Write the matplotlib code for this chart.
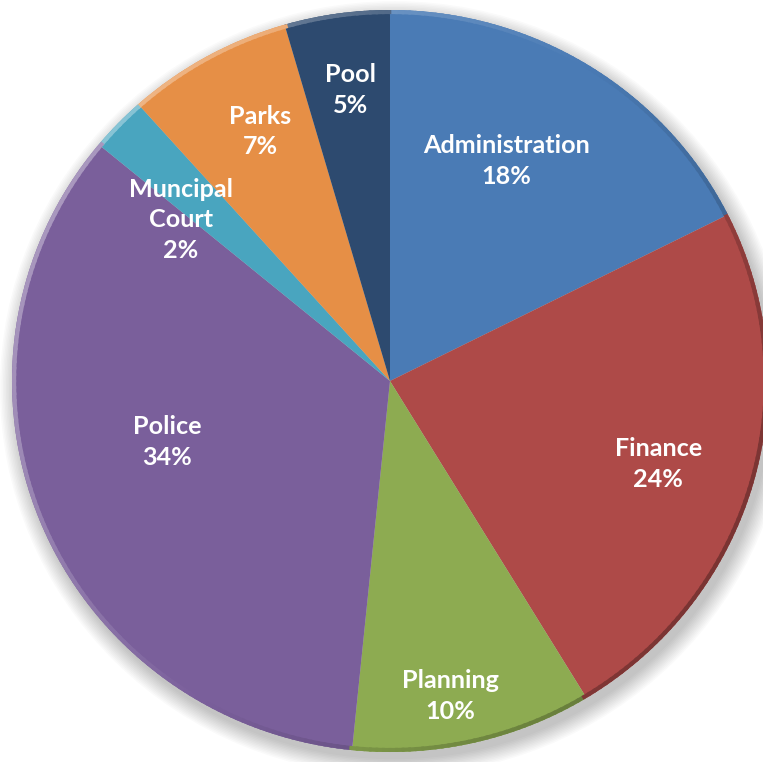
import numpy as np
import matplotlib
matplotlib.use("Agg")
import matplotlib.pyplot as plt
from matplotlib.patches import Ellipse, Wedge
from matplotlib.colors import to_rgb

categories = ["Administration", "Finance", "Planning", "Police", "Muncipal\nCourt", "Parks", "Pool"]
values = [17.6, 23.7, 10.3, 34.4, 2.4, 7.1, 4.5]
pct_labels = ["18%", "24%", "10%", "34%", "2%", "7%", "5%"]

colors = ["#4A7BB5", "#AE4A48", "#8DAB51", "#7A5F9B", "#49A5BF", "#E68F46", "#2D4A6F"]
label_radius = [0.668, 0.744, 0.864, 0.612, 0.703, 0.755, 0.792]
label_angle_shift = [4.3, -1.5, -2.2, -6.8, 5.8, -1.9, -0.5]

W, H = 763, 762
fig = plt.figure(figsize=(W / 100, H / 100), dpi=100)
ax = fig.add_axes([0, 0, 1, 1])
cx, cy = 390, 381
sx, sy = 378, 371


def set_limits():
    ax.set_xlim(-cx / sx, (W - cx) / sx)
    ax.set_ylim(-(H - cy) / sy, cy / sy)
    ax.set_aspect("auto")
    ax.axis("off")


set_limits()

# soft shadow
for i in range(12):
    r = 1.0 + 0.004 * i
    ax.add_patch(Ellipse((0.012, -0.02), 2 * r, 2 * r, facecolor="black",
                         alpha=0.018, lw=0, zorder=0))

wedges, _ = ax.pie(values, colors=colors, startangle=90, counterclock=False,
                   radius=1.0, center=(0, 0), frame=True,
                   wedgeprops=dict(linewidth=0, edgecolor="none"))
set_limits()
for w in wedges:
    w.set_zorder(2)


def color_at(angle):
    for w, c in zip(wedges, colors):
        lo, hi = w.theta1, w.theta2
        a = (angle - lo) % 360
        if a <= (hi - lo):
            return np.array(to_rgb(c))
    return np.array(to_rgb(colors[0]))


# bevel rim: lighter on the upper left, darker on the lower right
n = 360
for k in range(n):
    t1 = 360 * k / n
    t2 = 360 * (k + 1) / n
    tm = (t1 + t2) / 2
    s = np.cos(np.deg2rad(tm - 150))
    base = color_at(tm)
    if s > 0:
        col = base + (1 - base) * 0.35 * s
    else:
        col = base * (1 - 0.3 * (-s))
    ax.add_patch(Wedge((0, 0), 1.0, t1 - 0.2, t2 + 0.2, width=0.011,
                       facecolor=tuple(col), lw=0, zorder=3))

for w, cat, pct, rr, sh in zip(wedges, categories, pct_labels, label_radius, label_angle_shift):
    mid = np.deg2rad((w.theta1 + w.theta2) / 2 + sh)
    x, y = rr * np.cos(mid), rr * np.sin(mid)
    ax.text(x, y, f"{cat}\n{pct}", ha="center", va="center", color="white",
            fontsize=18.1, fontweight="bold", family=["Lato", "DejaVu Sans"],
            linespacing=1.4, zorder=5)

fig.savefig("out.png", dpi=100, facecolor="white")
